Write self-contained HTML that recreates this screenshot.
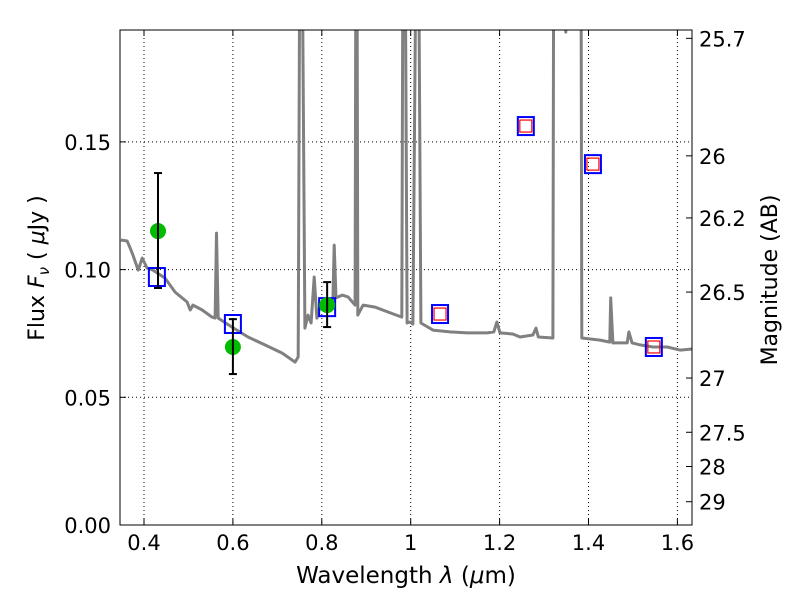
<!DOCTYPE html>
<html><head><meta charset="utf-8"><style>
body{margin:0;background:#fff;}
svg text{font-family:"DejaVu Sans","Liberation Sans",sans-serif;fill:#000;}
</style></head><body>
<svg id="chart" width="800" height="600" xmlns="http://www.w3.org/2000/svg">
<defs><clipPath id="plotclip"><rect x="120" y="30" width="572" height="495"/></clipPath></defs>
<rect x="0" y="0" width="800" height="600" fill="#fff"/>
<g id="grid"></g>
<g id="spec" clip-path="url(#plotclip)"></g>
<g id="marks"></g>
<rect x="120" y="30" width="572" height="495" fill="none" stroke="#000" stroke-width="1"/>
<g id="axes"></g>
<text x="406" y="583" font-size="23" text-anchor="middle">Wavelength  <tspan font-style="italic">λ</tspan> (<tspan font-style="italic">μ</tspan>m)</text>
<text transform="translate(44,268) rotate(-90)" font-size="22" text-anchor="middle">Flux  <tspan font-style="italic">F</tspan><tspan font-style="italic" font-size="15" dy="5">ν</tspan><tspan dy="-5">  (  </tspan><tspan font-style="italic">μ</tspan>Jy )</text>
<text transform="translate(777,280) rotate(-90)" font-size="22" text-anchor="middle">Magnitude (AB)</text>
</svg>
<script>
const xTicks=[0.4,0.6,0.8,1.0,1.2,1.4,1.6];
const xTickLabels=["0.4","0.6","0.8","1","1.2","1.4","1.6"];
const yTicks=[0,0.05,0.10,0.15];
const yTickLabels=["0.00","0.05","0.10","0.15"];
const magTicks=[25.7,26,26.2,26.5,27,27.5,28,29];
const magTickLabels=["25.7","26","26.2","26.5","27","27.5","28","29"];
const specWl=[.348,.362,.369,.375,.387,.396,.407,.420,.447,.470,.497,.504,.510,.531,.553,.560,.563,.567,.598,.634,.672,.711,.740,.747,.751,.755,.762,.769,.776,.783,.789,.798,.814,.825,.828,.832,.846,.859,.875,.877,.879,.881,.893,.920,.949,.980,.983,.987,.992,.998,1.005,1.013,1.017,1.023,1.050,1.088,1.127,1.172,1.187,1.194,1.201,1.230,1.246,1.275,1.282,1.287,1.320,1.322,1.347,1.349,1.352,1.383,1.385,1.426,1.448,1.450,1.455,1.487,1.491,1.498,1.516,1.545,1.577,1.606,1.633];
const specFlux=[.1116,.1112,.1084,.1057,.0998,.1045,.1006,.0998,.0967,.0912,.0873,.0842,.0861,.0842,.0814,.0810,.1143,.0810,.0775,.0736,.0705,.0673,.0638,.0658,.25,.25,.0771,.0822,.0791,.0971,.0810,.0869,.0881,.0881,.1096,.0889,.0900,.0893,.0861,.25,.25,.0822,.0861,.0853,.0834,.0814,.25,.25,.0791,.0795,.0787,.25,.25,.0791,.0763,.0756,.0752,.0752,.0756,.0795,.0752,.0748,.0736,.0744,.0771,.0736,.0732,.25,.25,.193,.25,.25,.0732,.0724,.0716,.0889,.0713,.0713,.0756,.0713,.0705,.0697,.0697,.0685,.0689];
const obsWl=[0.4315,0.600,0.812];
const obsFlux=[0.1151,0.0697,0.0861];
const obsErrLo=[0.0928,0.0591,0.0775];
const obsErrHi=[0.1378,0.0806,0.0951];
const modWl=[0.429,0.600,0.812,1.066,1.259,1.410,1.547];
const modFlux=[0.0971,0.0787,0.0853,0.0826,0.1562,0.1413,0.0697];
const predWl=[1.066,1.259,1.410,1.547];
const predFlux=[0.0826,0.1562,0.1413,0.0697];

const X=w=>144+(w-0.4)*444.5;
const Y=f=>525-f*2554;
const magToFlux=m=>Math.pow(10,(23.9-m)/2.5);
const NS="http://www.w3.org/2000/svg";
function mk(tag,attrs,parent){const e=document.createElementNS(NS,tag);for(const k in attrs)e.setAttribute(k,attrs[k]);parent.appendChild(e);return e;}
const grid=document.getElementById('grid'),axes=document.getElementById('axes');
xTicks.forEach((t,i)=>{const x=X(t);
 const g=mk('line',{x1:x,x2:x,y1:30,y2:525,stroke:'#000','stroke-width':1,'stroke-dasharray':'1,3'},grid);
 
 
 mk('line',{x1:x,x2:x,y1:525,y2:519,stroke:'#000'},axes);
 mk('line',{x1:x,x2:x,y1:30,y2:36,stroke:'#000'},axes);
 const tx=mk('text',{x:x,y:550,'font-size':21,'text-anchor':'middle'},axes);tx.textContent=xTickLabels[i];
 
 
});
yTicks.forEach((t,i)=>{const y=Y(t);
 if(t>0){const g=mk('line',{x1:120,x2:692,y1:y,y2:y,stroke:'#000','stroke-width':1,'stroke-dasharray':'1,3'},grid);
 
 }
 mk('line',{x1:120,x2:126,y1:y,y2:y,stroke:'#000'},axes);
 const tx=mk('text',{x:111,y:y+8,'font-size':21,'text-anchor':'end'},axes);tx.textContent=yTickLabels[i];
 
 
});
magTicks.forEach((m,i)=>{const y=Y(magToFlux(m));
 mk('line',{x1:686,x2:692,y1:y,y2:y,stroke:'#000'},axes);
 const tx=mk('text',{x:699,y:y+8,'font-size':21},axes);tx.textContent=magTickLabels[i];
 
 
});
const spec=document.getElementById('spec');
const pl=mk('polyline',{points:specWl.map((w,i)=>X(w).toFixed(1)+','+Y(specFlux[i]).toFixed(1)).join(' '),fill:'none',stroke:'#808080','stroke-width':3,'stroke-linejoin':'round'},spec);


const marks=document.getElementById('marks');
modWl.forEach((w,i)=>{
 const r=mk('rect',{x:X(w)-8,y:Y(modFlux[i])-9,width:16,height:18,fill:'none',stroke:'#0000ff','stroke-width':2},marks);
 
 
});
predWl.forEach((w,i)=>{
 const r=mk('rect',{x:X(w)-6,y:Y(predFlux[i])-6,width:12,height:12,fill:'none',stroke:'#ff0000','stroke-width':1.2},marks);
 
 
});
obsWl.forEach((w,i)=>{
 const c=mk('circle',{cx:X(w),cy:Y(obsFlux[i]),r:8,fill:'#00bb00'},marks);
 
 
});
obsWl.forEach((w,i)=>{const x=X(w);
 const e=mk('g',{},marks);
 
 
 mk('line',{x1:x,x2:x,y1:Y(obsErrLo[i]),y2:Y(obsErrHi[i]),stroke:'#000','stroke-width':2},e);
 mk('line',{x1:x-4,x2:x+4,y1:Y(obsErrLo[i]),y2:Y(obsErrLo[i]),stroke:'#000','stroke-width':2},e);
 mk('line',{x1:x-4,x2:x+4,y1:Y(obsErrHi[i]),y2:Y(obsErrHi[i]),stroke:'#000','stroke-width':2},e);
});
</script>
</body></html>
